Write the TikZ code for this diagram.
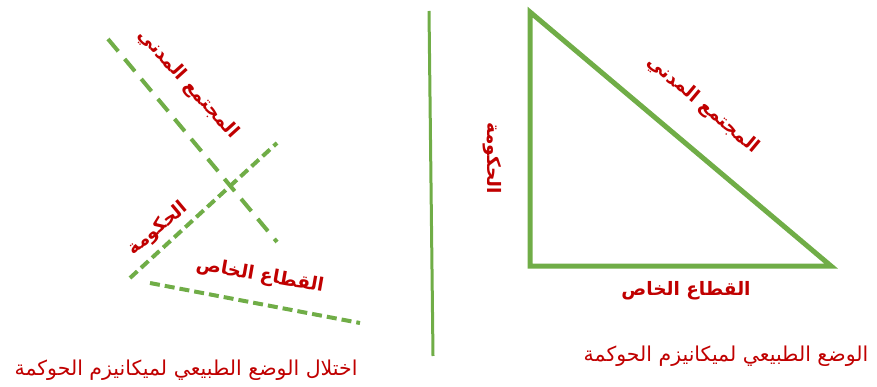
\documentclass[tikz,border=0pt]{standalone}
\usepackage{fontspec}
\usepackage{xcolor}
\usetikzlibrary{calc, positioning}
\TeXXeTstate=1
\newfontfamily\arabicfont[Script=Arabic]{DejaVu Sans}
\definecolor{leafgreen}{HTML}{70AD47}
\definecolor{darkred}{HTML}{C00000}

\begin{document}
\begin{tikzpicture}[x=1pt, y=-1pt,
    label/.style={text=darkred, inner sep=0pt, font=\arabicfont\bfseries\fontsize{18.5}{22}\selectfont},
    caption/.style={text=darkred, inner sep=0pt, font=\arabicfont\fontsize{20.5}{24}\selectfont},
    longdash/.style={leafgreen, line width=4pt, dash pattern=on 16pt off 10pt},
    shortdash/.style={leafgreen, line width=4pt, dash pattern=on 10pt off 5pt}]
    \useasboundingbox (0,0) rectangle (877,387);

    % Các điểm của tam giác
    \coordinate (A) at (530,12);
    \coordinate (B) at (530,266);
    \coordinate (C) at (831,266);

    % Tam giác bên phải
    \draw[leafgreen, line width=5pt, line join=miter] (A) -- (B) -- (C) -- cycle;

    % Đường phân cách
    \coordinate (S1) at (429,11);
    \coordinate (S2) at (433,356);
    \draw[leafgreen, line width=3pt] (S1) -- (S2);

    % Các đường nét đứt bên trái
    \coordinate (P1) at (108,39);
    \coordinate (P2) at (277,242);
    \coordinate (Q1) at (130,278);
    \coordinate (Q2) at (277,143);
    \coordinate (R1) at (150,283);
    \coordinate (R2) at (360,323);
    \draw[longdash] (P1) -- (P2);
    \draw[shortdash] (Q1) -- (Q2);
    \draw[shortdash] (R1) -- (R2);

    % Nhãn bên trái
    \node[label, rotate=-48] (civilL) at (188,84) {\beginR المجتمع المدني\endR};
    \node[label, rotate=40] (govL) at (158,229) {\beginR الحكومة\endR};
    \node[label, rotate=-10] (privL) at (260,276) {\beginR القطاع الخاص\endR};

    % Nhãn bên phải
    \node[label, rotate=-40] (civilR) at (703,105) {\beginR المجتمع المدني\endR};
    \node[label, rotate=-90] (govR) at (492,158) {\beginR الحكومة\endR};
    \node[label] (privR) at (686,291) {\beginR القطاع الخاص\endR};

    % Chú thích
    \node[caption] (capL) at (186,370) {\beginR اختلال الوضع الطبيعي لميكانيزم الحوكمة\endR};
    \node[caption] (capR) at (726,356) {\beginR الوضع الطبيعي لميكانيزم الحوكمة\endR};
\end{tikzpicture}
\end{document}
